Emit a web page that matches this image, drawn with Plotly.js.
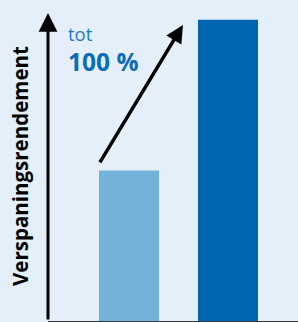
<!DOCTYPE html>
<html>
<head>
<meta charset="utf-8">
<script src="https://cdn.plot.ly/plotly-3.0.1.min.js"></script>
<style>html,body{margin:0;padding:0;background:#e5eff9;}#chart{width:298px;height:322px;}</style>
</head>
<body>
<div id="chart"></div>
<script>
const categories = ['voorheen', 'nu'];
const values = [50, 100];
const barColors = ['#73b2d9', '#0066b3'];
const yTitle = 'Verspaningsrendement';
const gainLabel = 'tot';
const gainValue = '100 %';

const xr = [-0.818, 1.707];
const yr = [0, 106.6];

const data = [{
  type: 'bar',
  x: categories,
  y: values,
  width: 0.606,
  marker: {color: barColors},
  hoverinfo: 'none'
}];

const layout = {
  width: 298, height: 322,
  margin: {l: 48, r: 0, t: 0, b: 1, pad: 0},
  paper_bgcolor: '#e5eff9',
  plot_bgcolor: '#e5eff9',
  showlegend: false,
  xaxis: {range: xr, showgrid: false, zeroline: false, showticklabels: false, ticks: '',
          showline: true, linecolor: '#3a3a3a', linewidth: 2, fixedrange: true},
  yaxis: {range: yr, showgrid: false, zeroline: false, showticklabels: false, ticks: '',
          showline: false, fixedrange: true},
  annotations: [
    {x: xr[0], y: 102.3, xref: 'x', yref: 'y', axref: 'x', ayref: 'y', ax: xr[0], ay: 0,
     text: '', showarrow: true, arrowhead: 2, arrowwidth: 3, arrowsize: 1.25, arrowcolor: '#000'},
    {x: 0.545, y: values[1] - 1.7, xref: 'x', yref: 'y', axref: 'x', ayref: 'y', ax: -0.303, ay: values[0] + 2.2,
     text: '', showarrow: true, arrowhead: 2, arrowwidth: 3.5, arrowsize: 1.0, arrowcolor: '#000'},
    {x: 0.072, y: 0.897, xref: 'paper', yref: 'paper', xanchor: 'left', yanchor: 'middle',
     text: gainLabel, showarrow: false, font: {family: 'Open Sans', size: 18.5, color: '#1e7ccc'}},
    {x: 0.072, y: 0.807, xref: 'paper', yref: 'paper', xanchor: 'left', yanchor: 'middle',
     text: '<b>' + gainValue + '</b>', showarrow: false, font: {family: 'Open Sans', size: 24.5, color: '#0a6cb9'}},
    {x: -0.112, y: 0.483, xref: 'paper', yref: 'paper', xanchor: 'center', yanchor: 'middle', textangle: -90,
     text: '<b>' + yTitle + '</b>', showarrow: false, font: {family: 'Open Sans', size: 20.5, color: '#000'}}
  ]
};

Plotly.newPlot('chart', data, layout, {displayModeBar: false, staticPlot: true});
</script>
</body>
</html>
